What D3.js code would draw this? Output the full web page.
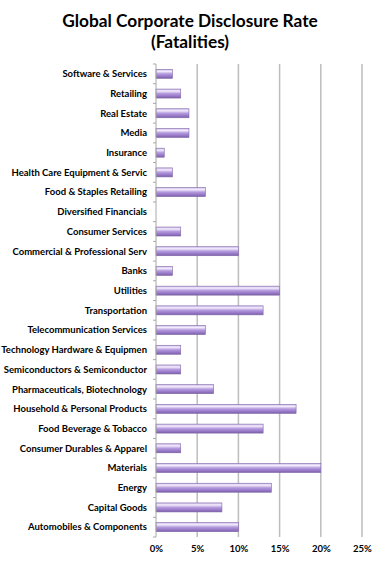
<!DOCTYPE html>
<html><head><meta charset="utf-8">
<script src="https://cdn.jsdelivr.net/npm/d3@7"></script>
<style>body{margin:0;background:#fff}svg{display:block}</style>
</head><body>
<script>
const categories = ["Software & Services","Retailing","Real Estate","Media","Insurance","Health Care Equipment & Servic","Food & Staples Retailing","Diversified Financials","Consumer Services","Commercial & Professional Serv","Banks","Utilities","Transportation","Telecommunication Services","Technology Hardware & Equipmen","Semiconductors & Semiconductor","Pharmaceuticals, Biotechnology","Household & Personal Products","Food Beverage & Tobacco","Consumer Durables & Apparel","Materials","Energy","Capital Goods","Automobiles & Components"];
const values = [2,3,4,4,1,2,6,0,3,10,2,15,13,6,3,3,7,17,13,3,20,14,8,10];
const xTicks = [0,5,10,15,20,25];
const titleLines = ["Global Corporate Disclosure Rate","(Fatalities)"];

(function(){
const W=380,H=561;
const svg=d3.select("body").append("svg").attr("width",W).attr("height",H);
const font="Lato, 'Open Sans', sans-serif";
const pL=156,pR=362,pT=64,pB=537;
const x=d3.scaleLinear().domain([0,25]).range([pL,pR]);
const y=d3.scaleBand().domain(categories).range([pT,pB]);

const defs=svg.append("defs");
const g=defs.append("linearGradient").attr("id","bg").attr("x1",0).attr("y1",0).attr("x2",0).attr("y2",1);
[[0,"#cdb9ec"],[0.22,"#f3ecfc"],[0.5,"#b49ade"],[0.8,"#9576c6"],[1,"#7a5fa6"]].forEach(([o,c])=>g.append("stop").attr("offset",o).attr("stop-color",c));

svg.selectAll("text.title").data(titleLines).enter().append("text")
 .attr("x",190).attr("y",(d,i)=>27+i*21).attr("text-anchor","middle")
 .attr("font-family",font).attr("font-weight","bold").attr("font-size",17.3).attr("fill","#000").text(d=>d);

svg.append("g").selectAll("line").data(xTicks.slice(1)).enter().append("line")
 .attr("x1",d=>x(d)).attr("x2",d=>x(d)).attr("y1",pT).attr("y2",pB)
 .attr("stroke","#bdbdbd").attr("stroke-width",1.5);

const bh=9;
svg.append("g").selectAll("rect").data(categories).enter().append("rect")
 .attr("x",pL).attr("y",(d)=>y(d)+y.bandwidth()/2-bh/2)
 .attr("width",(d,i)=>Math.max(0,x(values[i])-pL)).attr("height",bh)
 .attr("fill","url(#bg)").attr("stroke","#7f68a6").attr("stroke-width",0.6)
 .attr("opacity",(d,i)=>values[i]>0?1:0);

const ya=svg.append("g").attr("transform",`translate(${pL},0)`);
ya.append("line").attr("x1",0).attr("x2",0).attr("y1",pT).attr("y2",pB).attr("stroke","#a8a8a8").attr("stroke-width",1);
const bounds=d3.range(categories.length+1).map(i=>pT+i*y.step());
ya.selectAll("line.t").data(bounds).enter().append("line").attr("class","t")
 .attr("x1",-3).attr("x2",0).attr("y1",d=>d).attr("y2",d=>d).attr("stroke","#a8a8a8");
ya.selectAll("text").data(categories).enter().append("text")
 .attr("x",-9).attr("y",d=>y(d)+y.bandwidth()/2).attr("dy","0.35em").attr("text-anchor","end")
 .attr("font-family",font).attr("font-weight","bold").attr("font-size",9.5).attr("fill","#000").text(d=>d);

const xa=d3.axisBottom(x).tickValues(xTicks).tickFormat(d=>d+"%").tickSize(0).tickPadding(0);
const xg=svg.append("g").attr("transform",`translate(0,${pB+8})`).call(xa);
xg.select(".domain").remove();
xg.selectAll("text").attr("font-family",font).attr("font-weight","bold").attr("font-size",9.5).attr("fill","#000").attr("dy","0.71em");
})();
</script>
</body></html>
